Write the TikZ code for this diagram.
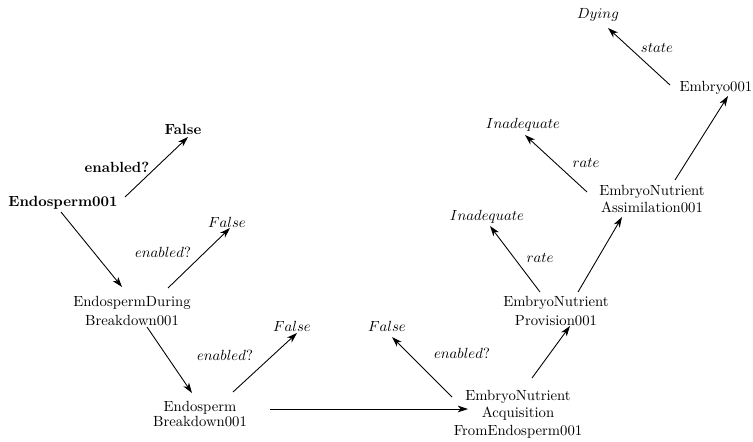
\documentclass[tikz,border=0pt]{standalone}
\usetikzlibrary{arrows.meta}
\begin{document}
\begin{tikzpicture}[x=0.68pt,y=-0.68pt,
  every node/.style={inner sep=0pt,outer sep=0pt,font=\fontsize{10}{12}\selectfont},
  concept/.style={align=center},
  bold/.style={font=\fontsize{10}{12}\selectfont\bfseries},
  rel/.style={},
  arr/.style={line width=0.6pt,-{Stealth[length=7pt,width=4.6pt,inset=2pt]}}]
\useasboundingbox (0,0) rectangle (753,441);

% objects and values
\node[bold] (e001) at (63,203) {Endosperm001};
\node[bold] (falb) at (183,129) {False};
\node[bold] (enb)  at (117,167) {enabled?};
\node[concept,font=\fontsize{10}{13.5}\selectfont] (edb) at (132,311) {EndospermDuring\\Breakdown001};
\node (fal1) at (227,222) {$False$};
\node[rel] (en1) at (163,252) {$enabled?$};
\node[concept,font=\fontsize{10}{10}\selectfont] (ebd) at (200,414) {Endosperm\\Breakdown001};
\node (fal2) at (292,326) {$False$};
\node[rel] (en2) at (225,355) {$enabled?$};
\node[concept,font=\fontsize{10}{12}\selectfont] (acq) at (518,414) {EmbryoNutrient\\Acquisition\\FromEndosperm001};
\node (fal3) at (387,326) {$False$};
\node[rel] (en3) at (462,353) {$enabled?$};
\node[concept,font=\fontsize{10}{12.4}\selectfont] (prov) at (556,311) {EmbryoNutrient\\Provision001};
\node (inad2) at (487,217) {$Inadequate$};
\node[rel] (rate2) at (540,258) {$rate$};
\node[concept,font=\fontsize{10}{11}\selectfont] (assim) at (652,199) {EmbryoNutrient\\Assimilation001};
\node (inad1) at (523,125) {$Inadequate$};
\node[rel] (rate1) at (586,163) {$rate$};
\node (emb) at (716,88) {Embryo001};
\node (dying) at (598,15) {$Dying$};
\node[rel] (state) at (657,48) {$state$};

% relations
\draw[arr] ([shift={(62,-6)}]e001.center) -- ([shift={(5,8)}]falb.center);
\draw[arr] ([shift={(-2,9)}]e001.center) -- ([shift={(-10,-24)}]edb.center);
\draw[arr] ([shift={(36,-23)}]edb.center) -- ([shift={(3,6)}]fal1.center);
\draw[arr] ([shift={(15,16)}]edb.center) -- ([shift={(-8,-21)}]ebd.center);
\draw[arr] ([shift={(33,-22)}]ebd.center) -- ([shift={(5,7)}]fal2.center);
\draw[arr] ([shift={(70,-5)}]ebd.center) -- ([shift={(-50,-5)}]acq.center);
\draw[arr] ([shift={(-66,-17)}]acq.center) -- ([shift={(5,11)}]fal3.center);
\draw[arr] ([shift={(14,-36)}]acq.center) -- ([shift={(14,15)}]prov.center);
\draw[arr] ([shift={(-16,-19)}]prov.center) -- ([shift={(3,9)}]inad2.center);
\draw[arr] ([shift={(22,-19)}]prov.center) -- ([shift={(-30,18)}]assim.center);
\draw[arr] ([shift={(-65,-7)}]assim.center) -- ([shift={(2,10)}]inad1.center);
\draw[arr] ([shift={(23,-19)}]assim.center) -- ([shift={(12,8)}]emb.center);
\draw[arr] ([shift={(-46,-3)}]emb.center) -- ([shift={(10,13)}]dying.center);
\end{tikzpicture}
\end{document}
